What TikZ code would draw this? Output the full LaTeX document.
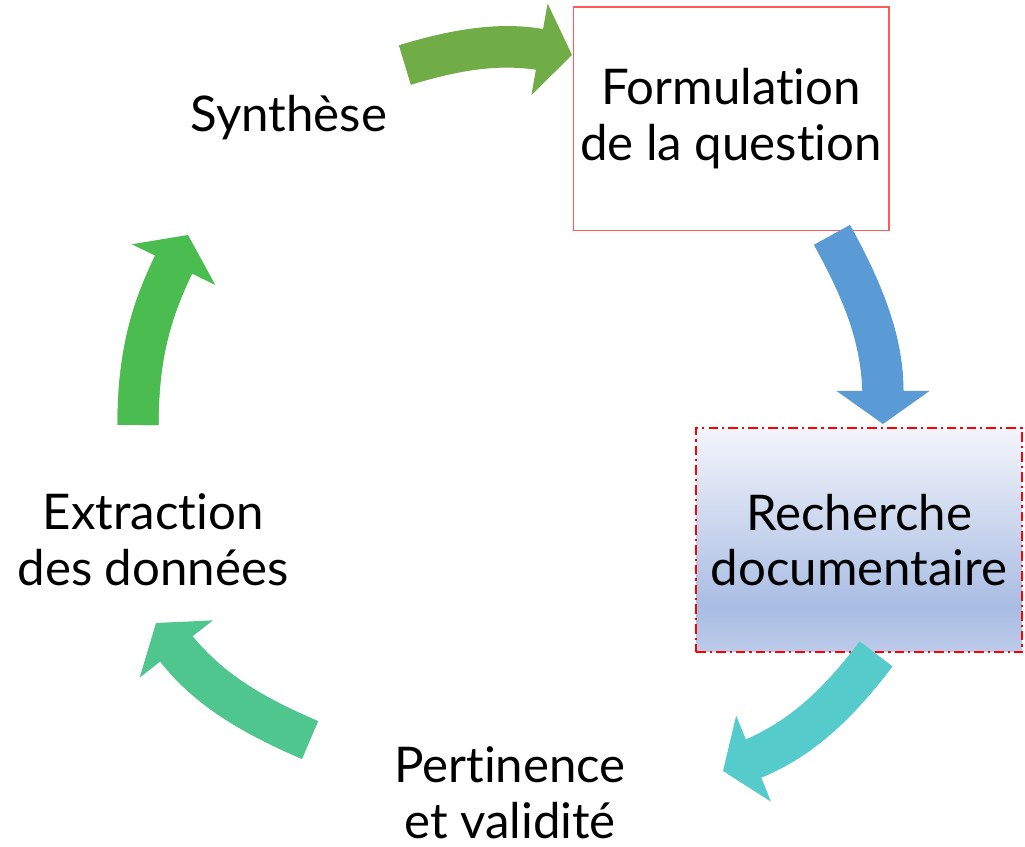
\documentclass[tikz,border=0pt]{standalone}
\usepackage{fontspec}
\setmainfont{Lato}[Ligatures=NoCommon]
\usetikzlibrary{arrows.meta}

\definecolor{arrowgreen}{HTML}{70AD47}
\definecolor{arrowblue}{HTML}{5B9BD5}
\definecolor{arrowteal}{HTML}{55CBCB}
\definecolor{arrowmint}{HTML}{4FC68E}
\definecolor{arrowleaf}{HTML}{4BBC4F}
\definecolor{boxred}{HTML}{FF5A5A}
\definecolor{shadetop}{HTML}{F3F5FB}
\definecolor{shadedark}{HTML}{A9BDE3}
\definecolor{shadelow}{HTML}{BCCBE9}
\pgfdeclareverticalshading{docshade}{100bp}{color(0bp)=(shadelow); color(25bp)=(shadelow); color(35bp)=(shadedark); color(75bp)=(shadetop); color(100bp)=(shadetop)}

\begin{document}
\begin{tikzpicture}[x=0.02cm,y=0.02cm,
    cycletext/.style={align=center,font=\fontsize{28}{31.75}\selectfont},
    flow/.style={line width=0.82cm,draw=#1,
      -{Triangle[length=0.66cm,width=1.86cm,line width=0pt]},
      postaction={draw=#1,-,shorten >=0.45cm}}]
  \useasboundingbox (0,0) rectangle (1025,847);

  % steps of the cycle
  \node[cycletext] (syn) at (289,729) {Synthèse};
  \node[cycletext,draw=boxred,line width=0.6pt,fill=white,
        minimum width=6.32cm,minimum height=4.48cm] (form) at (731,728)
        {Formulation\\de la question};
  \node[cycletext,draw=red,line width=1.1pt,
        dash pattern=on 5.5pt off 2.3pt on 1.2pt off 2.3pt,
        shade,shading=docshade,
        minimum width=6.52cm,minimum height=4.48cm] (rech) at (859,307)
        {Recherche\\documentaire};
  \node[cycletext] (pert) at (510,54) {Pertinence\\et validité};
  \node[cycletext] (extr) at (153,307) {Extraction\\des données};

  % ends of the arrows
  \coordinate (synout) at (405,782);
  \coordinate (formin) at (572,792);
  \coordinate (formout) at (832,612);
  \coordinate (rechin) at (883,423);
  \coordinate (rechout) at (876,193);
  \coordinate (pertin) at (723,76);
  \coordinate (pertout) at (310,107);
  \coordinate (extrin) at (156,224);
  \coordinate (extrout) at (138,422);
  \coordinate (synin) at (188,612);

  \draw[flow=arrowgreen] (synout) to[out=17,in=170] (formin);
  \draw[flow=arrowblue] (formout) to[out=-61,in=90] (rechin);
  \draw[flow=arrowteal] (rechout) to[out=-127,in=22] (pertin);
  \draw[flow=arrowmint] (pertout) to[out=157,in=-52] (extrin);
  \draw[flow=arrowleaf] (extrout) to[out=90,in=-116] (synin);
\end{tikzpicture}
\end{document}
